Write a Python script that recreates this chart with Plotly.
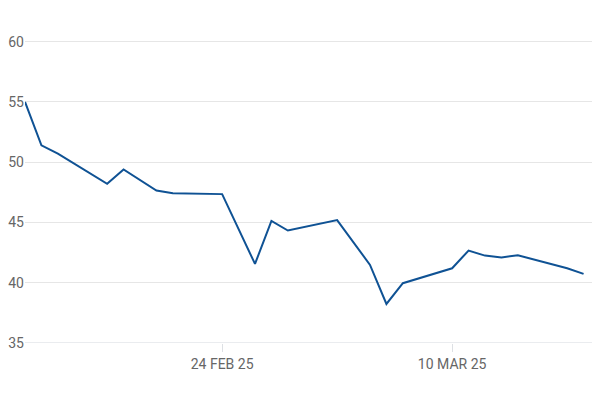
import plotly.graph_objects as go

# daily closing values
dates = [
    "2025-02-12", "2025-02-13", "2025-02-14", "2025-02-17", "2025-02-18",
    "2025-02-19", "2025-02-20", "2025-02-21", "2025-02-24", "2025-02-26",
    "2025-02-27", "2025-02-28", "2025-03-03", "2025-03-05", "2025-03-06",
    "2025-03-07", "2025-03-10", "2025-03-11", "2025-03-12", "2025-03-13",
    "2025-03-14", "2025-03-17", "2025-03-18",
]
values = [
    55.0, 51.4, 50.7, 48.2, 49.4,
    48.5, 47.65, 47.43, 47.35, 41.56,
    45.13, 44.33, 45.2, 41.48, 38.24,
    39.96, 41.2, 42.67, 42.25, 42.1,
    42.28, 41.2, 40.73,
]

x_tick_vals = ["2025-02-24", "2025-03-10"]
x_tick_text = ["24 FEB 25", "10 MAR 25"]
y_tick_vals = [35, 40, 45, 50, 55, 60]

fig = go.Figure()

fig.add_trace(go.Scatter(
    x=dates,
    y=values,
    mode="lines",
    line=dict(color="#0f5294", width=2),
    hoverinfo="x+y",
))

# the page body adds an 8px offset, so the figure is sized to fill the rest
fig.update_layout(
    width=592,
    height=392,
    paper_bgcolor="white",
    plot_bgcolor="white",
    showlegend=False,
    margin=dict(l=17, r=0, t=30, b=57),
    font=dict(family="Roboto, Arial, sans-serif", size=14, color="#666666"),
    xaxis=dict(
        type="date",
        range=["2025-02-12", "2025-03-19"],
        tickvals=x_tick_vals,
        ticktext=x_tick_text,
        showgrid=False,
        zeroline=False,
        showline=False,
        ticks="outside",
        ticklen=8,
        tickcolor="#dde0e4",
        tickwidth=1,
        automargin=False,
        tickfont=dict(size=14, color="#666666"),
    ),
    yaxis=dict(
        range=[35, 60.3],
        tickvals=y_tick_vals,
        showgrid=True,
        gridcolor="#e6e6e6",
        gridwidth=1,
        zeroline=False,
        showline=False,
        ticks="",
        ticklabelstandoff=0,
        automargin=False,
        tickfont=dict(size=14, color="#666666"),
    ),
)

# baseline at the bottom of the plot
fig.add_hline(y=35, line=dict(color="#d5d9de", width=1))

fig.write_html("out.html")
